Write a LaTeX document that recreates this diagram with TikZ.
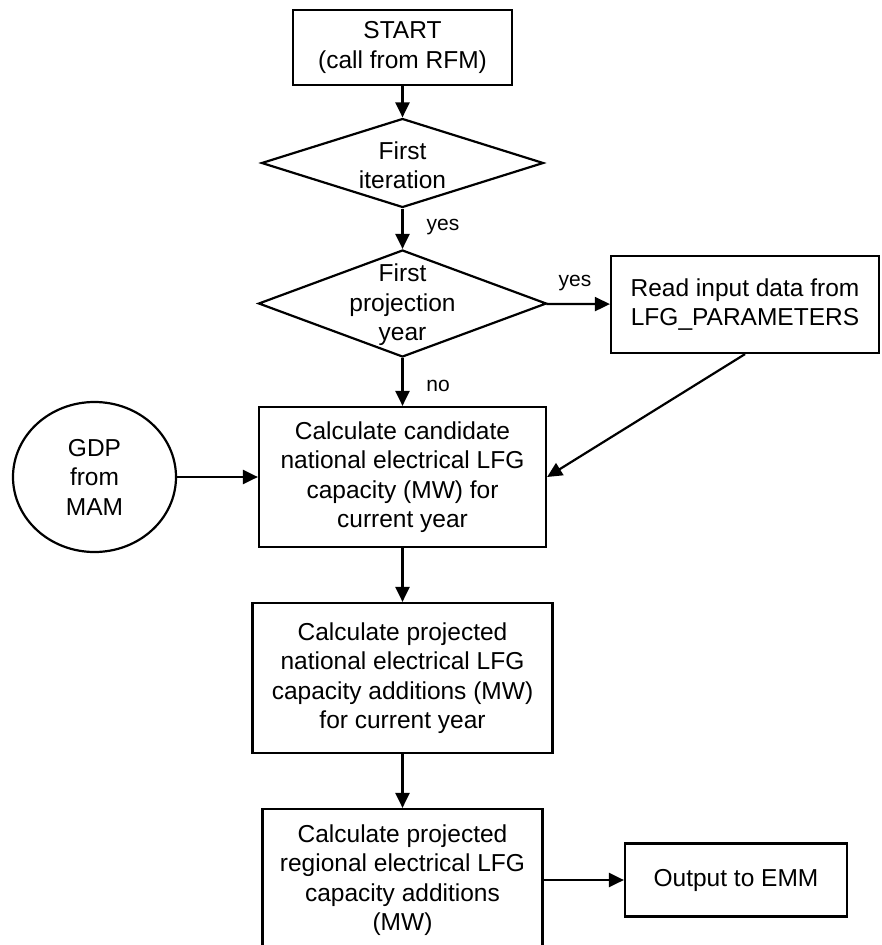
\documentclass[tikz,border=0pt]{standalone}
\usepackage{fontspec}
\setmainfont{Liberation Sans}
\usetikzlibrary{shapes.geometric,arrows.meta}
\tikzset{
  x=1pt, y=-1pt,
  every node/.style={font=\fontsize{24.5}{29.5}\selectfont, align=center, inner sep=0pt},
  box/.style={draw, line width=2.2pt, rectangle},
  dia/.style={draw, line width=2.2pt, diamond, inner sep=0pt},
  oval/.style={draw, line width=2.2pt, ellipse},
  lbl/.style={font=\fontsize{21}{25}\selectfont},
  arr/.style={line width=2.2pt, -{Triangle[length=15pt,width=14pt]}}
}
\begin{document}
\begin{tikzpicture}
\useasboundingbox (0,0) rectangle (881,945);
\clip (0,0) rectangle (881,945);
\node[box, minimum width=219pt, minimum height=75pt] (start) at (402.5,47.5) {START\\(call from RFM)};
\node[dia, minimum width=282pt, minimum height=89pt] (d1) at (402.5,163) {};
\node (d1t) at (402.5,165) {First\\iteration};
\node[dia, minimum width=288pt, minimum height=107pt] (d2) at (402.5,303.5) {};
\node (d2t) at (402.5,305) {First\\projection\\year};
\node[box, minimum width=268pt, minimum height=97pt] (read) at (745,304.5) {Read input data from\\LFG\_PARAMETERS};
\node[oval, minimum width=163pt, minimum height=150pt] (gdp) at (94.5,477) {GDP\\from\\MAM};
\node[box, minimum width=287pt, minimum height=140pt] (b1) at (402.5,477) {Calculate candidate\\national electrical LFG\\capacity (MW) for\\current year};
\node[box, minimum width=300pt, minimum height=150pt] (b2) at (402.5,678) {Calculate projected\\national electrical LFG\\capacity additions (MW)\\for current year};
\node[box, minimum width=280pt, minimum height=142pt] (b3) at (402.5,880) {Calculate projected\\regional electrical LFG\\capacity additions\\(MW)};
\node[box, minimum width=222pt, minimum height=73pt] (out) at (736,880) {Output to EMM};

\node[lbl] (l1) at (443,227) {yes};
\node[lbl] (l2) at (575,283) {yes};
\node[lbl] (l3) at (438,386) {no};

\draw[arr] (start) -- (d1);
\draw[arr] (d1) -- (d2);
\draw[arr] (d2) -- (b1);
\draw[arr] (d2) -- (read);
\draw[arr] (read.south) -- (b1.east);
\draw[arr] (gdp) -- (b1);
\draw[arr] (b1) -- (b2);
\draw[arr] (b2) -- (b3);
\draw[arr] (b3.east) -- (out.west);
\end{tikzpicture}
\end{document}
